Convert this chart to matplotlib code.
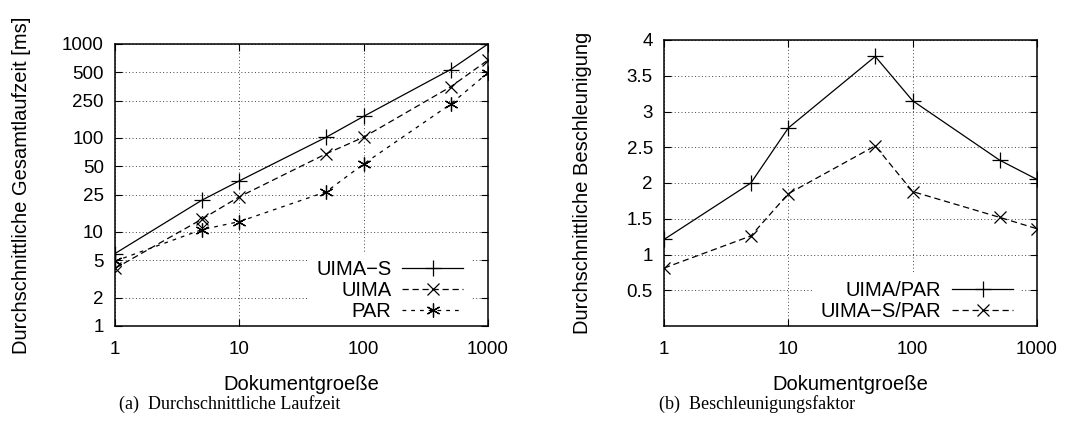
import matplotlib.pyplot as plt
from matplotlib.ticker import FixedLocator, NullLocator, FixedFormatter

# data
doc_sizes = [1, 5, 10, 50, 100, 500, 1000]

uima_s = [5.9, 21.8, 35, 102, 170, 535, 1000]
uima = [4.1, 13.7, 23.7, 68, 102, 350, 675]
par = [4.9, 10.6, 12.9, 26.8, 53, 229, 495]
extra_x = [1, 5]
extra_y = [4.4, 12.7]

uima_par = [1.21, 2.0, 2.77, 3.77, 3.15, 2.32, 2.05]
uima_s_par = [0.81, 1.26, 1.85, 2.52, 1.88, 1.52, 1.36]

left_yticks = [1, 2, 5, 10, 25, 50, 100, 250, 500, 1000]
right_yticks = [0.5, 1, 1.5, 2, 2.5, 3, 3.5, 4]
xticks = [1, 10, 100, 1000]

plt.rcParams["font.family"] = ["Liberation Sans", "DejaVu Sans"]
TICK_FS = 13.5
LABEL_FS = 14.5
LEG_FS = 14.5

fig = plt.figure(figsize=(10.65, 4.3), dpi=100)
W, H = 1065, 430
ax1 = fig.add_axes([115 / W, 1 - 326 / H, (488 - 115) / W, (326 - 44) / H])
ax2 = fig.add_axes([664 / W, 1 - 326 / H, (1037 - 664) / W, (326 - 40) / H])


def style_axes(ax):
    ax.set_xscale("log")
    ax.set_xlim(1, 1000)
    ax.xaxis.set_major_locator(FixedLocator(xticks))
    ax.xaxis.set_major_formatter(FixedFormatter([str(t) for t in xticks]))
    ax.xaxis.set_minor_locator(NullLocator())
    ax.tick_params(which="both", direction="in", top=True, right=True,
                   length=5, width=0.8, labelsize=TICK_FS)
    ax.tick_params(axis="x", pad=11)
    ax.tick_params(axis="y", pad=8)
    ax.grid(True, which="major", color="#444444", linestyle=(0, (1, 2.5)),
            linewidth=0.7)
    for s in ax.spines.values():
        s.set_linewidth(1.1)
        s.set_zorder(3)
    ax.set_xlabel("Dokumentgroeße", fontsize=LABEL_FS, labelpad=12)


def style_legend(ax, x_anchor):
    leg = ax.legend(loc="lower right", markerfirst=False, frameon=True,
                    fontsize=LEG_FS, handlelength=3.0, labelspacing=0.1,
                    borderaxespad=0, borderpad=0.4, handletextpad=0.55,
                    bbox_to_anchor=(x_anchor, -0.01))
    leg.get_frame().set_edgecolor("none")
    leg.get_frame().set_facecolor("white")
    leg.get_frame().set_alpha(1)
    leg.get_frame().set_boxstyle("square", pad=0)
    leg.set_zorder(2.5)


mk = dict(color="black", linewidth=0.9, markeredgewidth=0.9)

# (a)
ax1.plot(doc_sizes, uima_s, linestyle="-", marker="+", markersize=11,
         label="UIMA\u2212S", **mk)
ax1.plot(doc_sizes, uima, linestyle=(0, (5, 3)), marker="x", markersize=9,
         label="UIMA", **mk)
ax1.plot(doc_sizes, par, linestyle=(0, (3, 4)), marker=(6, 2, 0), markersize=10,
         label="PAR", **mk)
ax1.plot(extra_x, extra_y, linestyle="none", marker="D", markersize=6,
         markerfacecolor="none", markeredgecolor="black", markeredgewidth=0.8)
style_axes(ax1)
ax1.set_yscale("log")
ax1.set_ylim(1, 1000)
ax1.yaxis.set_major_locator(FixedLocator(left_yticks))
ax1.yaxis.set_major_formatter(FixedFormatter([str(t) for t in left_yticks]))
ax1.yaxis.set_minor_locator(NullLocator())
ax1.set_ylabel("Durchschnittliche Gesamtlaufzeit [ms]", fontsize=LABEL_FS)
ax1.yaxis.set_label_coords(-0.225, 0.5)
style_legend(ax1, 0.954)

# (b)
ax2.plot(doc_sizes, uima_par, linestyle="-", marker="+", markersize=11,
         label="UIMA/PAR", **mk)
ax2.plot(doc_sizes, uima_s_par, linestyle=(0, (5, 3)), marker="x", markersize=9,
         label="UIMA\u2212S/PAR", **mk)
style_axes(ax2)
ax2.set_ylim(0, 4)
ax2.yaxis.set_major_locator(FixedLocator(right_yticks))
ax2.yaxis.set_major_formatter(FixedFormatter([f"{t:g}" for t in right_yticks]))
ax2.set_ylabel("Durchschnittliche Beschleunigung", fontsize=LABEL_FS)
ax2.yaxis.set_label_coords(-0.193, 0.5)
style_legend(ax2, 0.957)

serif = ["Liberation Serif", "DejaVu Serif"]
fig.text(230 / W, 1 - 404 / H, "(a)  Durchschnittliche Laufzeit", ha="center",
         va="center", fontsize=13, family=serif)
fig.text(757 / W, 1 - 404 / H, "(b)  Beschleunigungsfaktor", ha="center",
         va="center", fontsize=13, family=serif)

plt.savefig("out.png", dpi=100)
plt.close()
